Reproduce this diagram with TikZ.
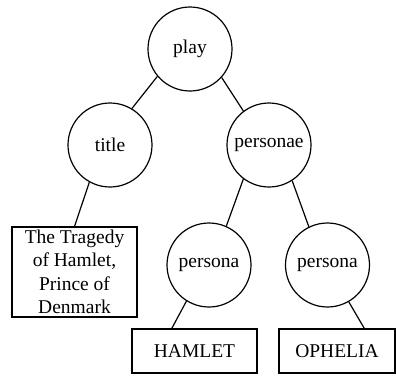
\documentclass[tikz,border=0pt]{standalone}
\usepackage{fontspec}
\setmainfont{Liberation Serif}
\usepackage{tikz}
\usetikzlibrary{calc}

\tikzset{
  elem/.style={draw, circle, line width=1.2pt, minimum size=84pt, inner sep=0pt},
  txtbox/.style={draw, rectangle, line width=1.2pt, inner sep=0pt, align=center}
}

\begin{document}
\begin{tikzpicture}[x=1pt,y=-1pt,line width=1.2pt,
  font=\fontsize{19.5}{23.4}\selectfont]
\useasboundingbox (0,0) rectangle (396,375);

  \node[elem]          (play)     at (190,49)    {play};
  \node[elem]          (title)    at (110,145)   {title};
  \node[elem]          (personae) at (269,145)   {personae};
  \node[elem]          (personaA) at (209,265)   {persona};
  \node[elem]          (personaB) at (327.5,265) {persona};

  \node[txtbox, minimum width=125pt, minimum height=90pt]
                       (tragedy)  at (74.5,272)
                       {The Tragedy\\of Hamlet,\\Prince of\\Denmark};
  \node[txtbox, minimum width=125pt, minimum height=44pt]
                       (hamlet)   at (194.5,351) {HAMLET};
  \node[txtbox, minimum width=116pt, minimum height=44pt]
                       (ophelia)  at (337,351)   {OPHELIA};

  \path[draw]
        (play.220)     edge (title.59)
        (play.318)     edge (personae.127)
        (title.241)    edge (tragedy.north)
        (personae.233) edge (personaA.66)
        (personae.303) edge (personaB.116)
        (personaA.238) edge ($(hamlet.north west)!0.32!(hamlet.north east)$)
        (personaB.300) edge ($(ophelia.north west)!0.733!(ophelia.north east)$);

\end{tikzpicture}
\end{document}
